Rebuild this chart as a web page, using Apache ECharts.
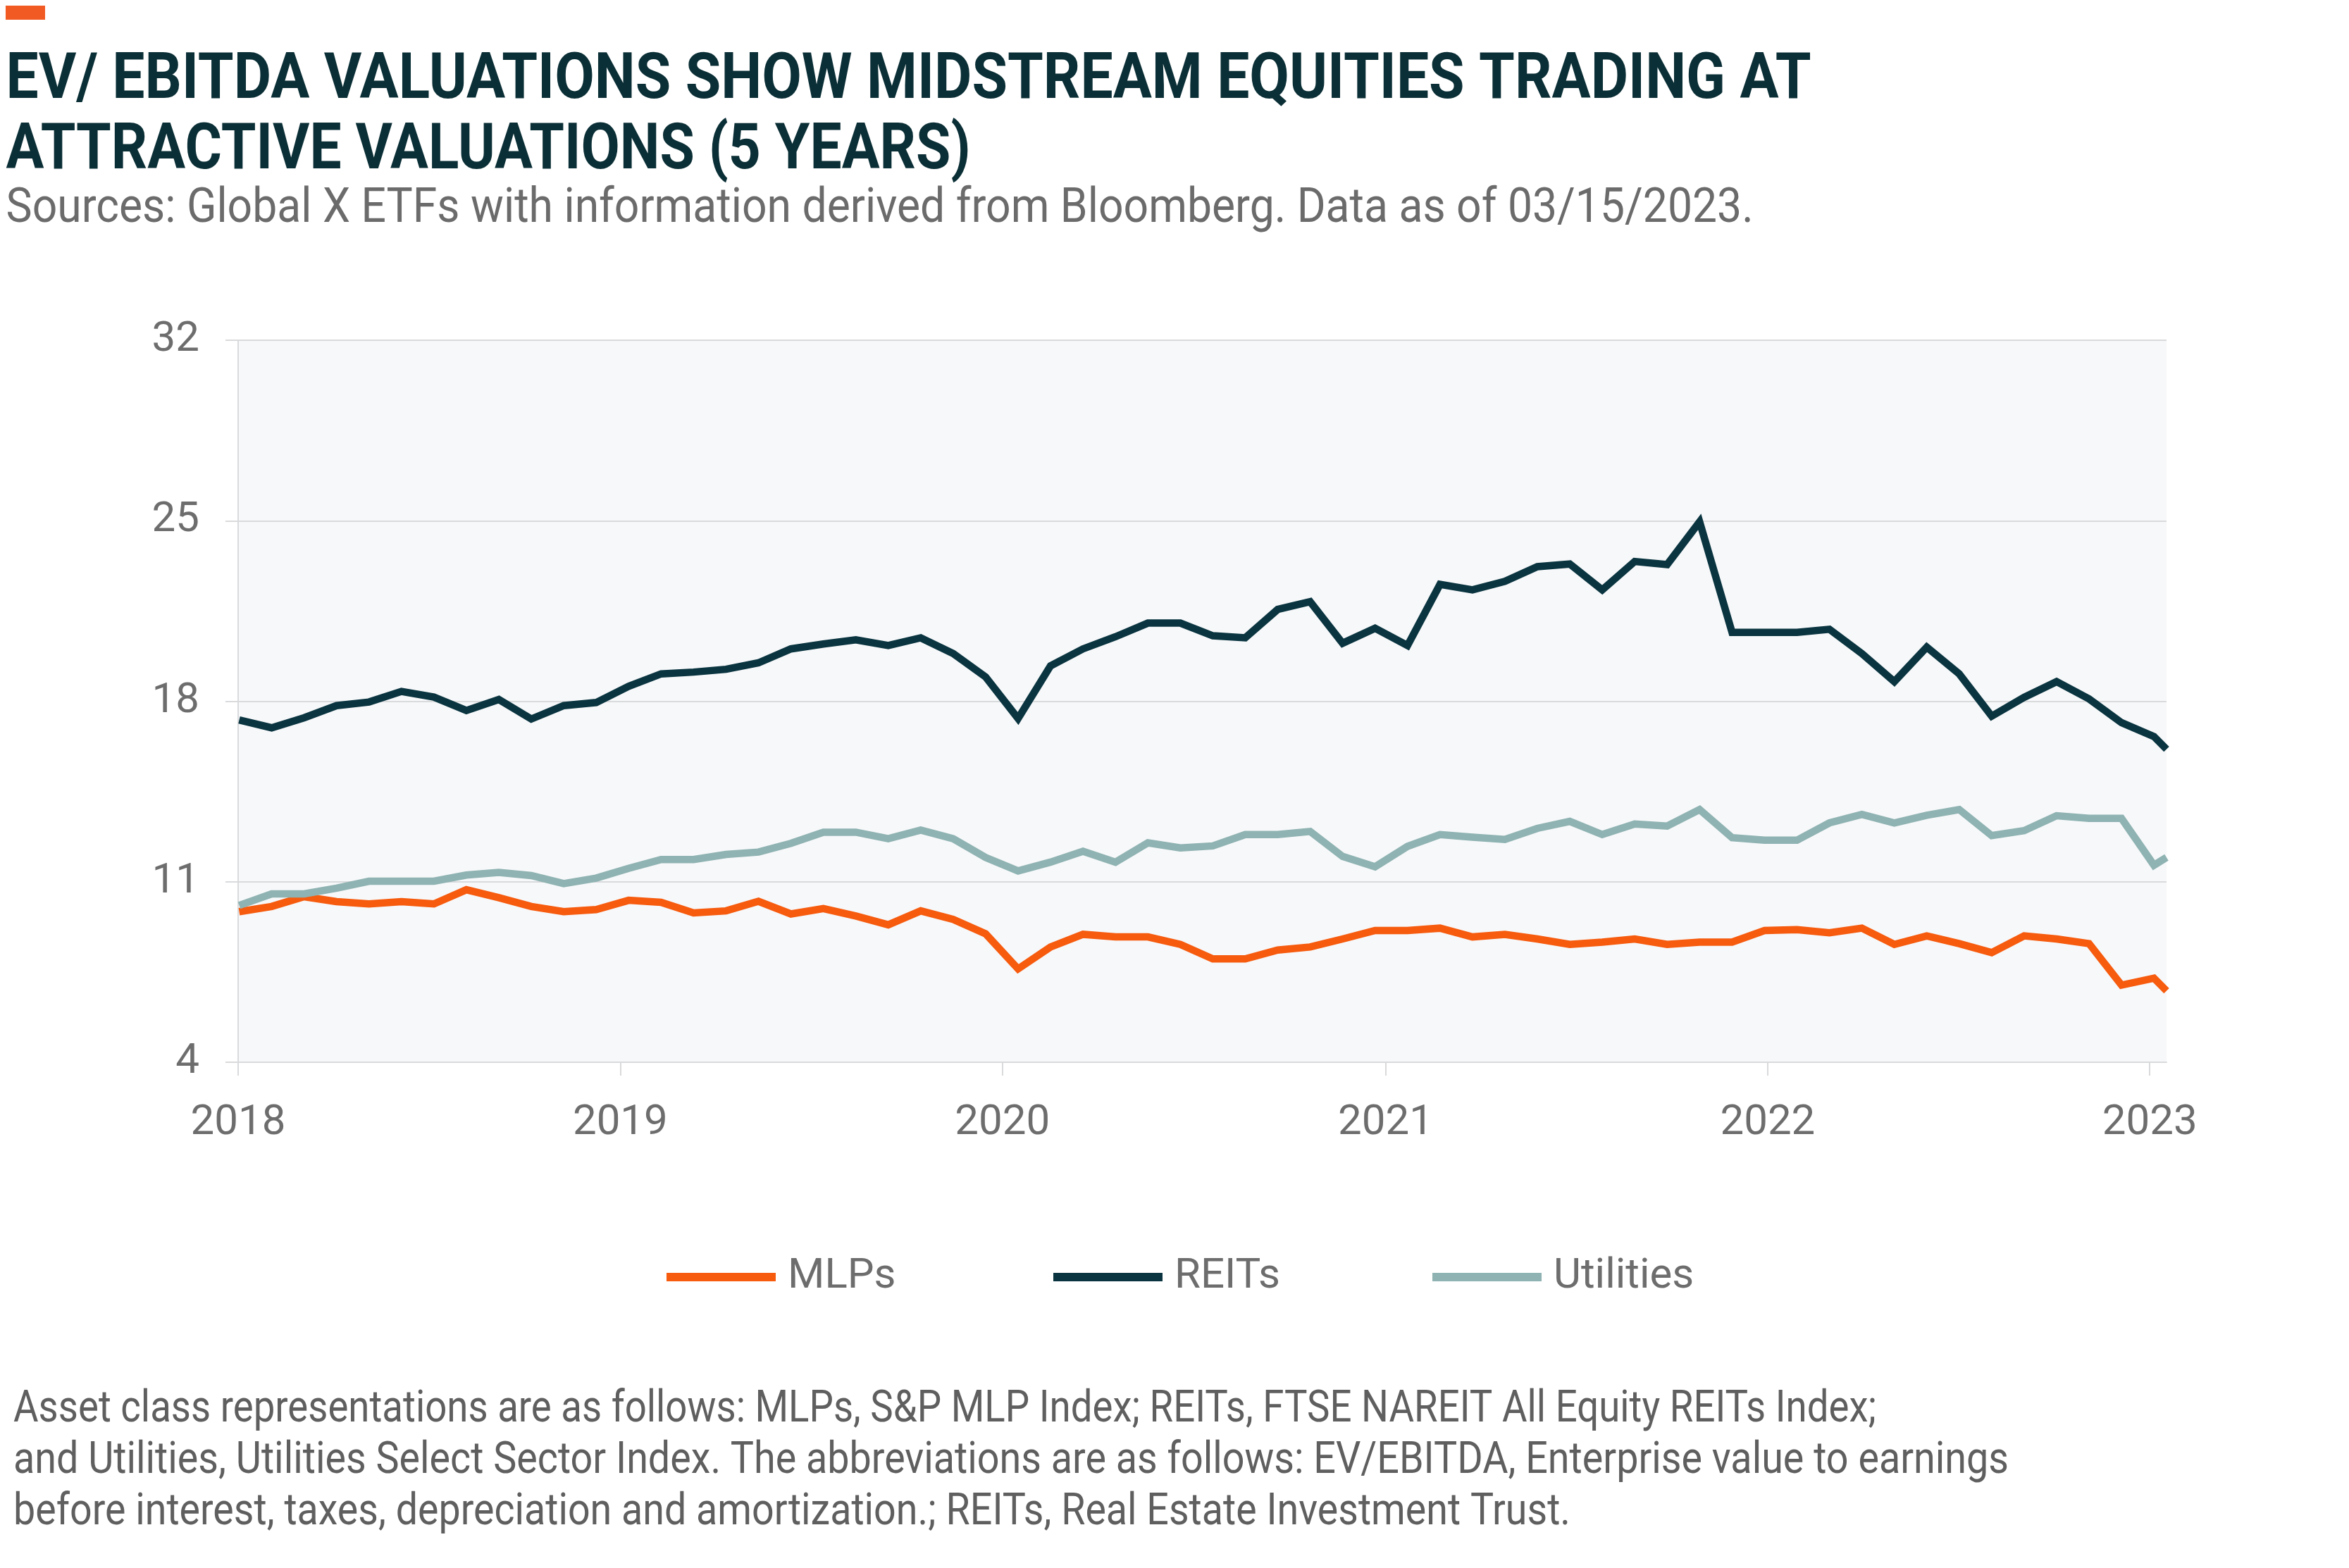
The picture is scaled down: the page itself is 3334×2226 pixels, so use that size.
<!DOCTYPE html>
<html><head><meta charset="utf-8">
<script src="https://cdn.jsdelivr.net/npm/echarts@6/dist/echarts.min.js"></script>
<style>html,body{margin:0;padding:0;background:#fff}#chart{width:3334px;height:2226px}</style>
</head><body><div id="chart"></div>
<script>
// ---- data ----
const dates = [
 '2018-01-02','2018-02-02','2018-03-05','2018-04-05','2018-05-06','2018-06-06','2018-07-07','2018-08-07','2018-09-07','2018-10-08','2018-11-08','2018-12-09',
 '2019-01-09','2019-02-09','2019-03-12','2019-04-12','2019-05-13','2019-06-13','2019-07-14','2019-08-14','2019-09-14','2019-10-15','2019-11-15','2019-12-16',
 '2020-01-16','2020-02-16','2020-03-18','2020-04-18','2020-05-19','2020-06-19','2020-07-20','2020-08-20','2020-09-20','2020-10-21','2020-11-21','2020-12-22',
 '2021-01-22','2021-02-22','2021-03-25','2021-04-25','2021-05-26','2021-06-26','2021-07-27','2021-08-27','2021-09-27','2021-10-28','2021-11-28','2021-12-29',
 '2022-01-29','2022-03-01','2022-04-01','2022-05-02','2022-06-02','2022-07-03','2022-08-03','2022-09-03','2022-10-04','2022-11-04','2022-12-05','2023-01-05',
 '2023-01-17'
];
const mlps = [
 9.84,10.04,10.42,10.23,10.14,10.23,10.14,10.69,10.38,10.04,9.84,9.92,
 10.28,10.20,9.79,9.87,10.24,9.75,9.96,9.67,9.33,9.87,9.54,8.98,
 7.62,8.47,8.96,8.86,8.86,8.57,8.01,8.01,8.35,8.47,8.78,9.11,
 9.11,9.20,8.86,8.96,8.78,8.57,8.66,8.78,8.57,8.66,8.66,9.11,
 9.14,9.02,9.20,8.57,8.90,8.60,8.25,8.90,8.78,8.60,6.99,7.26,
 6.77
];
const reits = [
 17.27,16.97,17.36,17.83,17.97,18.38,18.16,17.64,18.07,17.31,17.83,17.95,
 18.58,19.06,19.13,19.24,19.49,20.03,20.22,20.38,20.16,20.46,19.85,18.94,
 17.33,19.37,20.03,20.50,21.03,21.03,20.54,20.46,21.56,21.86,20.25,20.83,
 20.16,22.53,22.32,22.65,23.22,23.32,22.32,23.42,23.30,24.96,20.67,20.67,
 20.67,20.79,19.85,18.76,20.10,19.06,17.42,18.15,18.76,18.09,17.17,16.63,
 16.14
];
const utilities = [
 10.08,10.53,10.53,10.75,11.02,11.02,11.02,11.26,11.36,11.24,10.93,11.14,
 11.52,11.86,11.86,12.06,12.15,12.49,12.92,12.92,12.67,13.00,12.67,11.94,
 11.42,11.76,12.18,11.76,12.51,12.31,12.39,12.83,12.83,12.95,11.98,11.58,
 12.37,12.83,12.73,12.64,13.07,13.34,12.83,13.24,13.16,13.80,12.71,12.61,
 12.61,13.28,13.61,13.28,13.58,13.80,12.79,12.98,13.56,13.46,13.46,11.64,
 11.94
];
const yearLabels = ['2018','2019','2020','2021','2022','2023'];
const yTicks = [4, 11, 18, 25, 32];
const seriesNames = ['MLPs', 'REITs', 'Utilities'];

const titleLines = ['EV/ EBITDA VALUATIONS SHOW MIDSTREAM EQUITIES TRADING AT', 'ATTRACTIVE VALUATIONS (5 YEARS)'];
const subtitle = 'Sources: Global X ETFs with information derived from Bloomberg. Data as of 03/15/2023.';
const footLines = [
 'Asset class representations are as follows: MLPs, S&P MLP Index; REITs, FTSE NAREIT All Equity REITs Index;',
 'and Utilities, Utilities Select Sector Index. The abbreviations are as follows: EV/EBITDA, Enterprise value to earnings',
 'before interest, taxes, depreciation and amortization.; REITs, Real Estate Investment Trust.'
];

// ---- styling ----
const COLORS = ['#f65b0e', '#0a3540', '#8fb3b2'];
const FONT = "Roboto, sans-serif";
const GRAY = '#6d6d6d';
const GRID_C = '#d9dadc';
const LEGEND_LEFT = [941, 1490, 2028];

const cv = document.createElement('canvas').getContext('2d');
function fitScale(text, font, width) { cv.font = font; return width / cv.measureText(text).width; }
function fitText(text, font, x, y, width, fill) {
  return { type: 'text', x: x, y: y, scaleX: fitScale(text, font, width),
    style: { text: text, font: font, fill: fill, align: 'left', verticalAlign: 'middle' } };
}
const TITLE_FONT = 'bold 91px Roboto';
const SUB_FONT = '68px Roboto';
const FOOT_FONT = '63px Roboto';

const toPairs = arr => dates.map((d, i) => [Date.parse(d), arr[i]]);
const xMin = Date.UTC(+yearLabels[0], 0, 1);
const xMax = Date.parse(dates[dates.length - 1]);
const yearTicks = yearLabels.map(y => Date.UTC(+y, 0, 1));

const chart = echarts.init(document.getElementById('chart'), null, { renderer: 'canvas' });
chart.setOption({
  backgroundColor: '#ffffff',
  animation: false,
  grid: { left: 338, right: 259, top: 483, bottom: 718, show: true, backgroundColor: '#f7f8fa', borderWidth: 0 },
  xAxis: {
    type: 'value', min: xMin, max: xMax,
    axisLine: { show: true, lineStyle: { color: GRID_C, width: 2 } },
    axisTick: { show: true, length: 19, lineStyle: { color: GRID_C, width: 2 }, customValues: yearTicks },
    axisLabel: { customValues: yearTicks, margin: 57, color: GRAY, fontSize: 60, fontFamily: FONT,
      formatter: v => String(new Date(v).getUTCFullYear()) },
    splitLine: { show: false }
  },
  yAxis: {
    type: 'value', min: yTicks[0], max: yTicks[yTicks.length - 1], interval: yTicks[1] - yTicks[0],
    axisLine: { show: true, lineStyle: { color: GRID_C, width: 2 } },
    axisTick: { show: true, length: 18, lineStyle: { color: GRID_C, width: 2 } },
    axisLabel: { margin: 55, color: GRAY, fontSize: 60, fontFamily: FONT },
    splitLine: { show: true, lineStyle: { color: GRID_C, width: 2 } }
  },
  legend: seriesNames.map((n, i) => ({
    data: [n], left: LEGEND_LEFT[i], top: 1778, icon: 'rect', itemWidth: 155, itemHeight: 12,
    textStyle: { fontSize: 60, color: GRAY, fontFamily: FONT, padding: [0, 0, 0, 12] }
  })),
  series: [mlps, reits, utilities].map((arr, i) => ({
    name: seriesNames[i], type: 'line', data: toPairs(arr), symbol: 'none', showSymbol: false,
    lineStyle: { width: 10.5, color: COLORS[i], join: 'miter' }, itemStyle: { color: COLORS[i] }
  })),
  graphic: [
    { type: 'rect', shape: { x: 8, y: 8, width: 56, height: 20 }, style: { fill: '#f15a22' } },
    fitText(titleLines[0], TITLE_FONT, 8.6, 116, 2562, '#0b2f36'),
    fitText(titleLines[1], TITLE_FONT, 8.6, 216, 1369, '#0b2f36'),
    fitText(subtitle, SUB_FONT, 8.6, 298, 2480, '#6b6b6b'),
    fitText(footLines[0], FOOT_FONT, 19, 2002, 2644, '#5f5f5f'),
    fitText(footLines[1], FOOT_FONT, 19, 2075, 2832, '#5f5f5f'),
    fitText(footLines[2], FOOT_FONT, 19, 2148, 2210, '#5f5f5f')
  ]
});
</script>
</body></html>
